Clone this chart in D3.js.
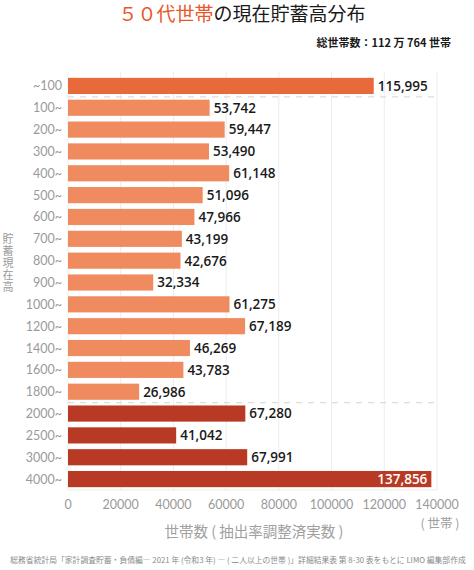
<!DOCTYPE html>
<html><head><meta charset="utf-8">
<script src="https://cdn.jsdelivr.net/npm/d3@7"></script>
<style>
body{margin:0;background:#fff;}
text{font-family:"Noto Sans CJK JP","Noto Sans",sans-serif;}
</style></head>
<body><svg id="c" width="474" height="570"></svg>
<script>
const categories = ["~100","100~","200~","300~","400~","500~","600~","700~","800~","900~","1000~","1200~","1400~","1600~","1800~","2000~","2500~","3000~","4000~"];
const values = [115995,53742,59447,53490,61148,51096,47966,43199,42676,32334,61275,67189,46269,43783,26986,67280,41042,67991,137856];
const groups = ["top","mid","mid","mid","mid","mid","mid","mid","mid","mid","mid","mid","mid","mid","mid","high","high","high","high"];
const xTicks = [0,20000,40000,60000,80000,100000,120000,140000];
const colors = {top:"#E8693A", mid:"#F08B60", high:"#B83A24"};

(function(){
const svg = d3.select("#c");
const mL = 68, mR = 437, mT = 75, mB = 490;
const x = d3.scaleLinear().domain([0,140000]).range([mL,mR]);
const y = d3.scaleBand().domain(categories).range([mT,mB]).paddingInner(0.26).paddingOuter(0.13);

svg.append("g").selectAll("line").data(xTicks).join("line")
  .attr("x1",d=>x(d)).attr("x2",d=>x(d)).attr("y1",mT-3).attr("y2",mB)
  .attr("stroke","#ececec").attr("stroke-width",1);
svg.append("line").attr("x1",mL).attr("x2",mR).attr("y1",mB).attr("y2",mB).attr("stroke","#ececec");

const sepAfter = ["~100","1800~"];
sepAfter.forEach(c=>{
  const i = categories.indexOf(c);
  const yy = (y(categories[i]) + y.bandwidth() + y(categories[i+1]))/2;
  svg.append("line").attr("x1",mL).attr("x2",mR).attr("y1",yy).attr("y2",yy)
    .attr("stroke","#dcdcdc").attr("stroke-width",1.2).attr("stroke-dasharray","6,6");
});

svg.append("g").selectAll("rect").data(values).join("rect")
  .attr("x",x(0)).attr("y",(d,i)=>y(categories[i])).attr("height",y.bandwidth())
  .attr("width",d=>x(d)-x(0)).attr("fill",(d,i)=>colors[groups[i]]);

const fmt = d3.format(",");
const last = values.length-1;
svg.append("g").selectAll("text").data(values).join("text")
  .attr("x",(d,i)=> i===last ? x(d)-4 : x(d)+4)
  .attr("y",(d,i)=>y(categories[i])+y.bandwidth()/2)
  .attr("dy","0.36em")
  .attr("text-anchor",(d,i)=> i===last ? "end":"start")
  .attr("fill",(d,i)=> i===last ? "#fff":"#1a1a1a")
  .attr("font-size",13.5).attr("font-weight",600)
  .style("font-family","'Open Sans', 'Noto Sans', sans-serif")
  .text(d=>fmt(d));

svg.append("g").selectAll("text").data(categories).join("text")
  .attr("x",mL-6).attr("y",d=>y(d)+y.bandwidth()/2).attr("dy","0.36em")
  .attr("text-anchor","end").attr("fill","#9a9a9a").attr("font-size",12.5)
  .style("font-family","Lato, 'Noto Sans', sans-serif")
  .text(d=>d);

svg.append("g").selectAll("text").data(xTicks).join("text")
  .attr("x",d=>x(d)).attr("y",509).attr("text-anchor","middle")
  .attr("fill","#9a9a9a").attr("font-size",12.5)
  .style("font-family","Lato, 'Noto Sans', sans-serif")
  .text(d=>d);

svg.append("text").attr("x",8).attr("y",233)
  .style("writing-mode","vertical-rl").style("text-orientation","upright")
  .attr("letter-spacing",1.2)
  .attr("fill","#9a9a9a").attr("font-size",11).text("貯蓄現在高");

svg.append("text").attr("x",254).attr("y",537).attr("text-anchor","middle")
  .attr("fill","#a0a0a0").attr("font-size",14.5).text("世帯数 ( 抽出率調整済実数 )");
svg.append("text").attr("x",440).attr("y",528).attr("text-anchor","middle")
  .attr("fill","#a0a0a0").attr("font-size",12.5).text("( 世帯 )");

const t = svg.append("text").attr("x",242).attr("y",21).attr("text-anchor","middle").attr("font-size",19);
t.append("tspan").attr("fill","#E8582A").text("５０代世帯");
t.append("tspan").attr("fill","#1a1a1a").text("の現在貯蓄高分布");

svg.append("text").attr("x",451).attr("y",47).attr("text-anchor","end").attr("font-size",11).attr("font-weight",700).attr("fill","#1a1a1a")
  .text("総世帯数：112 万 764 世帯");

svg.append("text").attr("x",238).attr("y",563).attr("text-anchor","middle")
  .attr("fill","#8a8a8a").attr("font-size",7.8)
  .text("総務省統計局「家計調査貯蓄・負債編― 2021 年 (令和3 年) ― ( 二人以上の世帯 )」詳細結果表 第 8-30 表をもとに LIMO 編集部作成");
})();
</script></body></html>
